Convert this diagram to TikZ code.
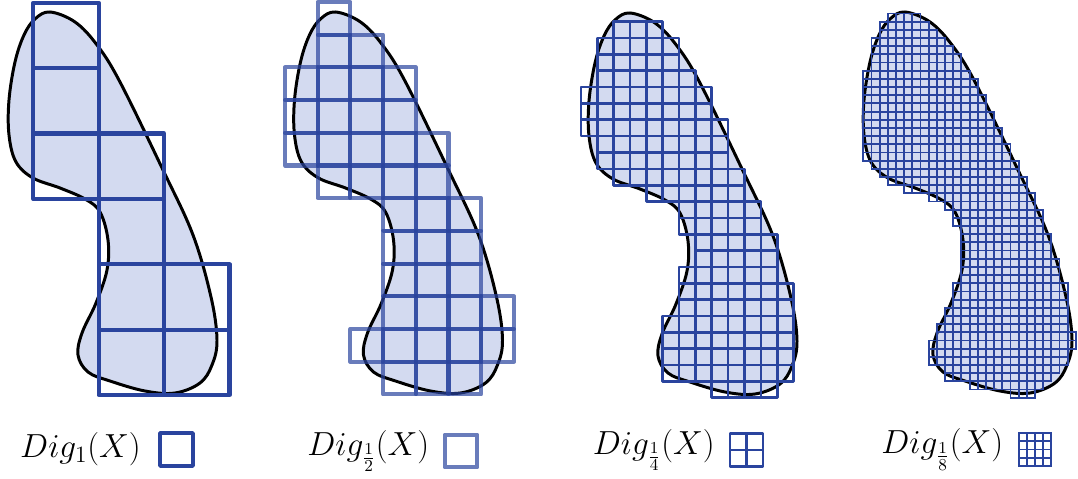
\RequirePackage{fix-cm}
\documentclass[tikz,border=0pt]{standalone}
\usepackage{xcolor}
\usetikzlibrary{positioning,calc}

\definecolor{cellblue}{RGB}{42,68,158}
\definecolor{blobblue}{RGB}{211,218,240}

\tikzset{
	blob/.pic={
		\path[fill=blobblue,draw=black,line width=1.7pt]
		plot[smooth cycle,tension=0.6] coordinates {
			(50,12) (75,22) (97,45) (120,82) (163,170) (193,235)
			(211,297) (217,340) (212,365) (200,383) (175,393) (145,391)
			(110,381) (88,372) (78,355) (82,333) (96,303) (107,270)
			(108,240) (100,212) (85,199) (60,188) (33,178) (16,162)
			(9,135) (9,100) (15,62) (24,35) (35,19)};
	}
}

\begin{document}
\begin{tikzpicture}[
		x=0.02cm,y=-0.02cm,
		cellA/.style={draw=cellblue,line width=2.3pt,line join=round},
		cellB/.style={cellA,draw opacity=0.7},
		cellC/.style={draw=cellblue,line width=1.5pt,line join=round},
		cellD/.style={draw=cellblue,line width=1.05pt},
		keybox/.style={minimum size=0.654cm,inner sep=0pt,outer sep=0pt},
		digname/.style={inner sep=0pt,font=\fontsize{19}{23}\selectfont}
		]
		\useasboundingbox (0,0) rectangle (1078,479);
		
		% the same set X four times
		\pic at (0,0) {blob};
		\pic at (285.5,0) {blob};
		\pic at (580,1) {blob};
		\pic at (855,0) {blob};
		
		% grid of side 1
		\foreach \r/\a/\b in {0/0/0,1/0/0,2/0/1,3/1/1,4/1/2,5/1/2}
		\foreach \c in {\a,...,\b}
		\draw[cellA] ({33.3+65.4*\c},{2.7+65.4*\r}) rectangle ++(65.4,65.4);
		
		% grid of side 1/2
		\foreach \r/\a/\b in {0/1/1,1/1/2,2/0/3,3/0/3,4/0/4,5/1/4,
			6/3/5,7/3/5,8/3/5,9/3/6,10/2/6,11/3/5}
		\foreach \c in {\a,...,\b}
		\draw[cellB] ({285+32.7*\c},{2+32.7*\r}) rectangle ++(32.7,32.7);
		
		% grid of side 1/4
		\foreach \r/\a/\b in {0/2/4,1/1/5,2/1/5,3/1/6,4/0/7,5/0/7,6/0/8,
			7/1/8,8/1/8,9/2/9,10/4/9,11/6/10,12/6/10,13/7/11,14/7/11,
			15/6/11,16/6/12,17/6/12,18/5/12,19/5/12,20/5/12,21/5/12,22/8/11}
		\foreach \c in {\a,...,\b}
		\draw[cellC] ({581+16.35*\c},{21.7+16.35*\r}) rectangle ++(16.35,16.35);
		
		% grid of side 1/8
		\foreach \r/\a/\b in {0/3/6,1/2/7,2/2/8,3/1/9,4/1/10,5/1/11,6/1/11,
			7/0/12,8/0/13,9/0/13,10/0/14,11/0/14,12/0/15,13/0/15,14/0/16,
			15/0/16,16/0/17,17/0/17,18/1/18,19/2/18,20/3/19,21/5/19,
			22/8/20,23/10/20,24/11/21,25/11/21,26/12/21,27/12/22,28/12/22,
			29/12/22,30/12/23,31/12/23,32/12/23,33/11/24,34/11/24,35/11/24,
			36/10/24,37/10/24,38/9/24,39/9/25,40/8/25,41/8/24,42/8/24,
			43/10/23,44/10/22,45/13/21,46/18/20}
		\foreach \c in {\a,...,\b}
		\draw[cellD] ({863.3+8.175*\c},{13.5+8.175*\r}) rectangle ++(8.175,8.175);
		
		% legend
		\node[keybox,cellA] (key1) at (176.5,449.5) {};
		\node[keybox,cellB] (key2) at (461,451) {};
		\node[keybox,cellC] (key3) at (746.5,450) {};
		\node[keybox,cellD] (key4) at (1035,449.5) {};
		
		\draw[cellC] (key3.north) -- (key3.south) (key3.west) -- (key3.east);
		\foreach \i in {1,2,3}
		\draw[cellD] ($(key4.north west)!\i/4!(key4.north east)$) -- ($(key4.south west)!\i/4!(key4.south east)$)
		($(key4.north west)!\i/4!(key4.south west)$) -- ($(key4.north east)!\i/4!(key4.south east)$);
		
		\node[digname,left=0.38cm of key1] (dig1) {$Dig_1(X)$};
		\node[digname,left=0.3cm of key2] (dig2) {$Dig_{\frac{1}{2}}(X)$};
		\node[digname,left=0.3cm of key3] (dig3) {$Dig_{\frac{1}{4}}(X)$};
		\node[digname,left=0.3cm of key4] (dig4) {$Dig_{\frac{1}{8}}(X)$};
		
	\end{tikzpicture}
\end{document}
